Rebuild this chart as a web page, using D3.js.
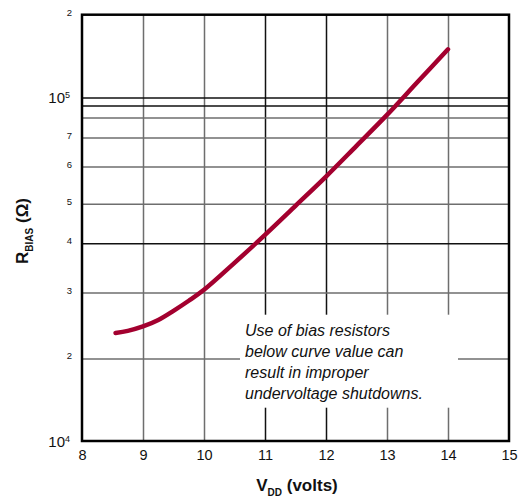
<!DOCTYPE html>
<html lang="en">
  <head>
    <meta charset="UTF-8" />
    <title>RBIAS vs VDD</title>
    <script src="https://d3js.org/d3.v7.min.js"></script>
    <style>
      body {
        margin: 0;
        padding: 0;
        background-color: #ffffff;
        font-family: "Liberation Sans", Arial, sans-serif;
      }
      #chart svg {
        display: block;
      }
    </style>
  </head>
  <body>
    <div id="chart"></div>

    <script>
      // -----------------------------
      // Data
      // -----------------------------
      const vdd = [8.55, 8.75, 9.0, 9.25, 9.5, 9.75, 10.0, 10.5, 11.0, 11.5, 12.0, 12.5, 13.0, 13.5, 14.0];
      const rbias = [23400, 23700, 24350, 25340, 26810, 28520, 30480, 35680, 41970, 49460, 57140, 67000, 82100, 113800, 149700];

      const xTicks = [8, 9, 10, 11, 12, 13, 14, 15];
      const yGridValues = [20000, 30000, 40000, 50000, 60000, 70000, 80000, 90000, 100000];
      const yLabelValues = [10000, 20000, 30000, 40000, 50000, 60000, 70000, 100000, 200000];
      const noteLines = [
        "Use of bias resistors",
        "below curve value can",
        "result in improper",
        "undervoltage shutdowns.",
      ];

      // -----------------------------
      // Layout
      // -----------------------------
      const width = 521;
      const height = 498;
      const margin = { top: 14.7, right: 12, bottom: 57, left: 82 };
      const plotW = width - margin.left - margin.right;
      const plotH = height - margin.top - margin.bottom;

      // The printed grid is not an exact log grid: the decade stops are
      // spaced unevenly, so the scale is piecewise (fractions of plot height).
      const yStops = [10000, 20000, 30000, 40000, 50000, 60000, 70000, 80000, 90000, 100000, 200000];
      const yStopFrac = [0, 0.1936, 0.3483, 0.4637, 0.5563, 0.6437, 0.7117, 0.7586, 0.7872, 0.8059, 1];

      const svg = d3
        .select("#chart")
        .append("svg")
        .attr("width", width)
        .attr("height", height);

      const g = svg
        .append("g")
        .attr("transform", `translate(${margin.left},${margin.top})`);

      const x = d3.scaleLinear().domain([8, 15]).range([0, plotW]);
      const y = d3
        .scaleLog()
        .domain(yStops)
        .range(yStopFrac.map((f) => plotH * (1 - f)));

      // grid lines; a few of the printed lines are darker than the rest
      const darkX = new Set([11, 12]);
      const darkY = new Set([40000, 90000, 100000]);

      const xGrid = g
        .append("g")
        .attr("transform", `translate(0,${plotH})`)
        .call(
          d3.axisBottom(x).tickValues(xTicks.slice(1, -1)).tickSize(-plotH).tickFormat("")
        );
      xGrid.select(".domain").remove();
      xGrid
        .selectAll(".tick line")
        .attr("stroke", (d) => (darkX.has(d) ? "#111" : "#6e6e6e"))
        .attr("stroke-width", 1.5);

      const yGrid = g
        .append("g")
        .call(d3.axisLeft(y).tickValues(yGridValues).tickSize(-plotW).tickFormat(""));
      yGrid.select(".domain").remove();
      yGrid
        .selectAll(".tick line")
        .attr("stroke", (d) => (darkY.has(d) ? "#111" : "#6e6e6e"))
        .attr("stroke-width", 1.5);

      // note box, masking the grid behind it
      const noteBox = { x: 158, y: 300, w: 218, h: 93 };
      g.append("rect")
        .attr("x", noteBox.x)
        .attr("y", noteBox.y)
        .attr("width", noteBox.w)
        .attr("height", noteBox.h)
        .attr("fill", "#fff");

      const note = g
        .append("text")
        .attr("font-size", 16)
        .attr("font-style", "italic")
        .attr("fill", "#111");
      noteLines.forEach((line, i) => {
        note
          .append("tspan")
          .attr("x", noteBox.x + 5)
          .attr("y", noteBox.y + 21 + i * 21)
          .text(line);
      });

      // curve
      const line = d3
        .line()
        .x((d, i) => x(vdd[i]))
        .y((d) => y(d))
        .curve(d3.curveCatmullRom.alpha(0.5));

      g.append("path")
        .datum(rbias)
        .attr("d", line)
        .attr("fill", "none")
        .attr("stroke", "#a3002f")
        .attr("stroke-width", 4.5)
        .attr("stroke-linecap", "round")
        .attr("stroke-linejoin", "round");

      // frame
      g.append("rect")
        .attr("width", plotW)
        .attr("height", plotH)
        .attr("fill", "none")
        .attr("stroke", "#000")
        .attr("stroke-width", 2.5);

      // x axis labels
      const xAxis = g
        .append("g")
        .attr("transform", `translate(0,${plotH})`)
        .call(
          d3.axisBottom(x).tickValues(xTicks).tickSize(0).tickPadding(9).tickFormat(d3.format("d"))
        );
      xAxis.select(".domain").remove();
      xAxis
        .selectAll("text")
        .attr("font-family", "Liberation Sans, Arial, sans-serif")
        .attr("font-size", 14.5)
        .attr("fill", "#111");

      // y axis labels: mantissa digits small, decades as 10^n
      const yAxis = g
        .append("g")
        .call(
          d3
            .axisLeft(y)
            .tickValues(yLabelValues)
            .tickSize(0)
            .tickPadding(10)
            .tickFormat((d) => {
              const e = Math.floor(Math.log10(d) + 1e-9);
              return String(Math.round(d / Math.pow(10, e)));
            })
        );
      yAxis.select(".domain").remove();
      yAxis
        .selectAll("text")
        .attr("font-family", "Liberation Sans, Arial, sans-serif")
        .attr("fill", "#111")
        .each(function (d) {
          const t = d3.select(this);
          const e = Math.floor(Math.log10(d) + 1e-9);
          const m = Math.round(d / Math.pow(10, e));
          if (m === 1) {
            t.text(null)
              .attr("x", -12)
              .attr("dy", "0.35em")
              .attr("font-size", 15);
            t.append("tspan").text("10");
            t.append("tspan")
              .attr("font-size", 9)
              .attr("dy", "-0.55em")
              .text(e);
          } else {
            t.attr("font-size", 9.5).attr("dy", "0.05em");
          }
        });

      // axis titles
      svg
        .append("text")
        .attr("x", 297)
        .attr("y", 491)
        .attr("text-anchor", "middle")
        .attr("font-weight", "bold")
        .attr("font-size", 17)
        .attr("fill", "#111")
        .call((t) => {
          t.append("tspan").text("V");
          t.append("tspan").attr("font-size", 10).attr("dy", 5).text("DD");
          t.append("tspan").attr("dy", -5).text(" (volts)");
        });

      svg
        .append("text")
        .attr("transform", "translate(28,231) rotate(-90)")
        .attr("text-anchor", "middle")
        .attr("font-weight", "bold")
        .attr("font-size", 17)
        .attr("fill", "#111")
        .call((t) => {
          t.append("tspan").text("R");
          t.append("tspan").attr("font-size", 10).attr("dy", 5).text("BIAS");
          t.append("tspan").attr("dy", -5).text(" (\u03A9)");
        });
    </script>
  </body>
</html>
